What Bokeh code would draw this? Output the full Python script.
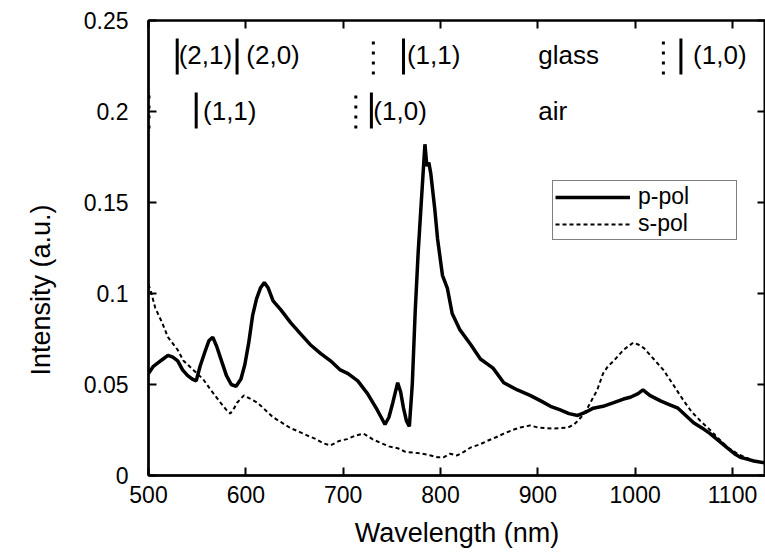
import math
from bokeh.plotting import figure
from bokeh.models import Range1d, LinearAxis, FixedTicker, Legend, LegendItem, Title
from bokeh.embed import file_html
from bokeh.resources import INLINE
from bokeh.core.properties import value

# ---- data ----
wl_p = [500, 505, 510, 515, 520, 525, 530, 535, 540, 545, 549, 553, 558, 562, 566, 570,
        575, 580, 585, 590, 595, 599, 603, 607, 611, 615, 619, 623, 628, 636, 646, 656,
        666, 677, 687, 697, 705, 715, 725, 735, 743, 747, 751, 756, 759, 762, 765, 768,
        771, 774, 777, 780, 782, 784, 786, 788, 790, 794, 797, 800, 802, 807, 812, 820,
        831, 841, 854, 865, 879, 892, 903, 913, 923, 932, 941, 950, 957, 967, 978, 988,
        995, 1003, 1008, 1015, 1026, 1035, 1044, 1052, 1060, 1069, 1077, 1086, 1095,
        1102, 1108, 1115, 1122, 1133]
int_p = [0.056, 0.060, 0.062, 0.064, 0.066, 0.065, 0.063, 0.058, 0.055, 0.053, 0.052,
         0.060, 0.068, 0.074, 0.076, 0.071, 0.063, 0.055, 0.050, 0.049, 0.053, 0.061,
         0.073, 0.088, 0.097, 0.103, 0.106, 0.103, 0.096, 0.091, 0.084, 0.078, 0.072,
         0.067, 0.063, 0.058, 0.056, 0.052, 0.045, 0.036, 0.028, 0.032, 0.040, 0.051,
         0.046, 0.037, 0.030, 0.027, 0.050, 0.090, 0.122, 0.148, 0.165, 0.182, 0.170,
         0.172, 0.166, 0.147, 0.130, 0.118, 0.110, 0.103, 0.089, 0.080, 0.072, 0.064,
         0.059, 0.051, 0.047, 0.044, 0.041, 0.038, 0.036, 0.034, 0.033, 0.035, 0.037,
         0.038, 0.040, 0.042, 0.043, 0.045, 0.047, 0.044, 0.041, 0.039, 0.037, 0.033,
         0.029, 0.026, 0.023, 0.019, 0.015, 0.012, 0.010, 0.009, 0.008, 0.007]

wl_s = [500, 503, 507, 514, 520, 530, 536, 546, 556, 564, 574, 580, 584, 588, 591, 598,
        605, 612, 620, 628, 637, 646, 655, 663, 672, 680, 687, 696, 704, 713, 721, 730,
        738, 747, 756, 764, 772, 781, 790, 797, 803, 810, 817, 824, 831, 840, 848, 857,
        865, 874, 882, 892, 900, 908, 916, 923, 931, 937, 941, 946, 951, 956, 961, 967,
        972, 978, 983, 988, 993, 998, 1003, 1009, 1014, 1019, 1024, 1029, 1034, 1039,
        1045, 1050, 1058, 1067, 1077, 1088, 1096, 1105, 1113, 1122, 1133]
int_s = [0.105, 0.100, 0.092, 0.084, 0.076, 0.069, 0.063, 0.058, 0.053, 0.047, 0.040,
         0.036, 0.034, 0.037, 0.040, 0.044, 0.042, 0.040, 0.036, 0.032, 0.029, 0.026,
         0.024, 0.022, 0.020, 0.0176, 0.0165, 0.019, 0.020, 0.022, 0.023, 0.020, 0.018,
         0.016, 0.015, 0.013, 0.0126, 0.012, 0.011, 0.010, 0.010, 0.012, 0.011, 0.013,
         0.0154, 0.017, 0.019, 0.021, 0.023, 0.025, 0.0264, 0.0275, 0.0264, 0.026,
         0.0258, 0.026, 0.0264, 0.028, 0.030, 0.033, 0.037, 0.042, 0.047, 0.056, 0.060,
         0.063, 0.066, 0.069, 0.071, 0.073, 0.072, 0.070, 0.067, 0.064, 0.061, 0.058,
         0.054, 0.050, 0.045, 0.041, 0.035, 0.030, 0.025, 0.019, 0.015, 0.012, 0.010,
         0.008, 0.007]

# mode markers (wavelength positions) and their labels
glass_solid_wl = [529.5, 591, 762, 1047]
glass_dotted_wl = [731, 1029]
air_solid_wl = [549, 729]
air_dotted_wl = [500.5, 713]
glass_bar_y = [0.2203, 0.2401]
air_bar_y = [0.1907, 0.2104]

glass_labels = ["(2,1)", "(2,0)", "(1,1)", "glass", "(1,0)"]
glass_label_wl = [531, 600.5, 765.5, 900.5, 1059.5]
glass_label_y = 0.2313
air_labels = ["(1,1)", "air", "(1,0)"]
air_label_wl = [556, 900.5, 731]
air_label_y = 0.2005

x_ticks = [500, 600, 700, 800, 900, 1000, 1100]
x_tick_labels = ["500", "600", "700", "800", "900", "1000", "1100"]
y_ticks = [0, 0.05, 0.1, 0.15, 0.2, 0.25]
y_tick_labels = ["0", "0.05", "0.1", "0.15", "0.2", "0.25"]

FONT = "Liberation Sans"

p = figure(width=765, height=554, x_range=Range1d(500, 1133.9), y_range=Range1d(0, 0.25),
           output_backend="svg", toolbar_location=None,
           min_border_left=148, min_border_top=20, min_border_bottom=79, min_border_right=0)
p.xgrid.visible = False
p.ygrid.visible = False
p.outline_line_color = "black"
p.outline_line_width = 2
p.background_fill_color = "white"
p.border_fill_color = "white"


def style_axis(ax, ticks, labels, show_labels=True):
    ax.ticker = FixedTicker(ticks=ticks)
    ax.axis_line_width = 2.5
    ax.axis_line_color = "black"
    ax.major_tick_in = 8
    ax.major_tick_out = 0
    ax.major_tick_line_width = 2
    ax.minor_tick_line_color = None
    if show_labels:
        ax.major_label_overrides = {t: l for t, l in zip(ticks, labels)}
        ax.major_label_text_font = FONT
        ax.major_label_text_font_size = "23px"
        ax.major_label_text_color = "black"
    else:
        ax.major_label_overrides = {t: "" for t in ticks}
        ax.major_label_text_font_size = "1px"
        ax.major_label_standoff = 0


style_axis(p.xaxis[0], x_ticks, x_tick_labels)
style_axis(p.yaxis[0], y_ticks, y_tick_labels)
p.xaxis[0].major_label_standoff = 10
p.yaxis[0].major_label_standoff = 20
p.xaxis.axis_label = "Wavelength (nm)"
xa = p.xaxis[0]
xa.axis_label_text_font = FONT
xa.axis_label_text_font_size = "27px"
xa.axis_label_text_font_style = "normal"
xa.axis_label_text_color = "black"
xa.axis_label_standoff = 12

top_ax = LinearAxis()
style_axis(top_ax, x_ticks, x_tick_labels, show_labels=False)
top_ax.axis_line_width = 2
p.add_layout(top_ax, "above")
right_ax = LinearAxis()
style_axis(right_ax, y_ticks, y_tick_labels, show_labels=False)
right_ax.axis_line_color = None
p.add_layout(right_ax, "right")

# y-axis title: sits lower than the frame centre in the reference
ytitle = Title(text="Intensity (a.u.)", align="left", offset=100,
               text_font=FONT, text_font_size="27px", text_font_style="normal",
               text_color="black", vertical_align="middle", standoff=48)
p.add_layout(ytitle, "left")

# curves
r_p = p.line(wl_p, int_p, line_color="black", line_width=3.5)
r_s = p.line(wl_s, int_s, line_color="black", line_width=2, line_dash="4 3")

# mode markers
p.segment(x0=glass_solid_wl, x1=glass_solid_wl, y0=[glass_bar_y[0]] * len(glass_solid_wl),
          y1=[glass_bar_y[1]] * len(glass_solid_wl), line_color="black", line_width=3)
p.segment(x0=glass_dotted_wl, x1=glass_dotted_wl, y0=[glass_bar_y[0]] * len(glass_dotted_wl),
          y1=[glass_bar_y[1]] * len(glass_dotted_wl), line_color="black", line_width=3,
          line_dash="3 7")
p.segment(x0=air_solid_wl, x1=air_solid_wl, y0=[air_bar_y[0]] * len(air_solid_wl),
          y1=[air_bar_y[1]] * len(air_solid_wl), line_color="black", line_width=3)
p.segment(x0=air_dotted_wl, x1=air_dotted_wl, y0=[air_bar_y[0]] * len(air_dotted_wl),
          y1=[air_bar_y[1]] * len(air_dotted_wl), line_color="black", line_width=3,
          line_dash="3 7")

p.text(x=glass_label_wl, y=[glass_label_y] * len(glass_labels), text=glass_labels,
       text_font=value(FONT), text_font_size="26px", text_baseline="middle",
       text_align="left", text_color="black")
p.text(x=air_label_wl, y=[air_label_y] * len(air_labels), text=air_labels,
       text_font=value(FONT), text_font_size="26px", text_baseline="middle",
       text_align="left", text_color="black")

legend = Legend(items=[LegendItem(label="p-pol", renderers=[r_p]),
                       LegendItem(label="s-pol", renderers=[r_s])],
                location=(404, 235))
legend.label_text_font = FONT
legend.label_text_font_size = "23px"
legend.label_text_color = "black"
legend.glyph_width = 75
legend.glyph_height = 22
legend.label_height = 22
legend.label_width = 96
legend.label_standoff = 8
legend.spacing = 0
legend.padding = 2
legend.margin = 0
legend.border_line_color = "black"
legend.border_line_width = 1.5
legend.background_fill_alpha = 1
p.add_layout(legend)

open("out.html", "w").write(file_html(p, INLINE))
